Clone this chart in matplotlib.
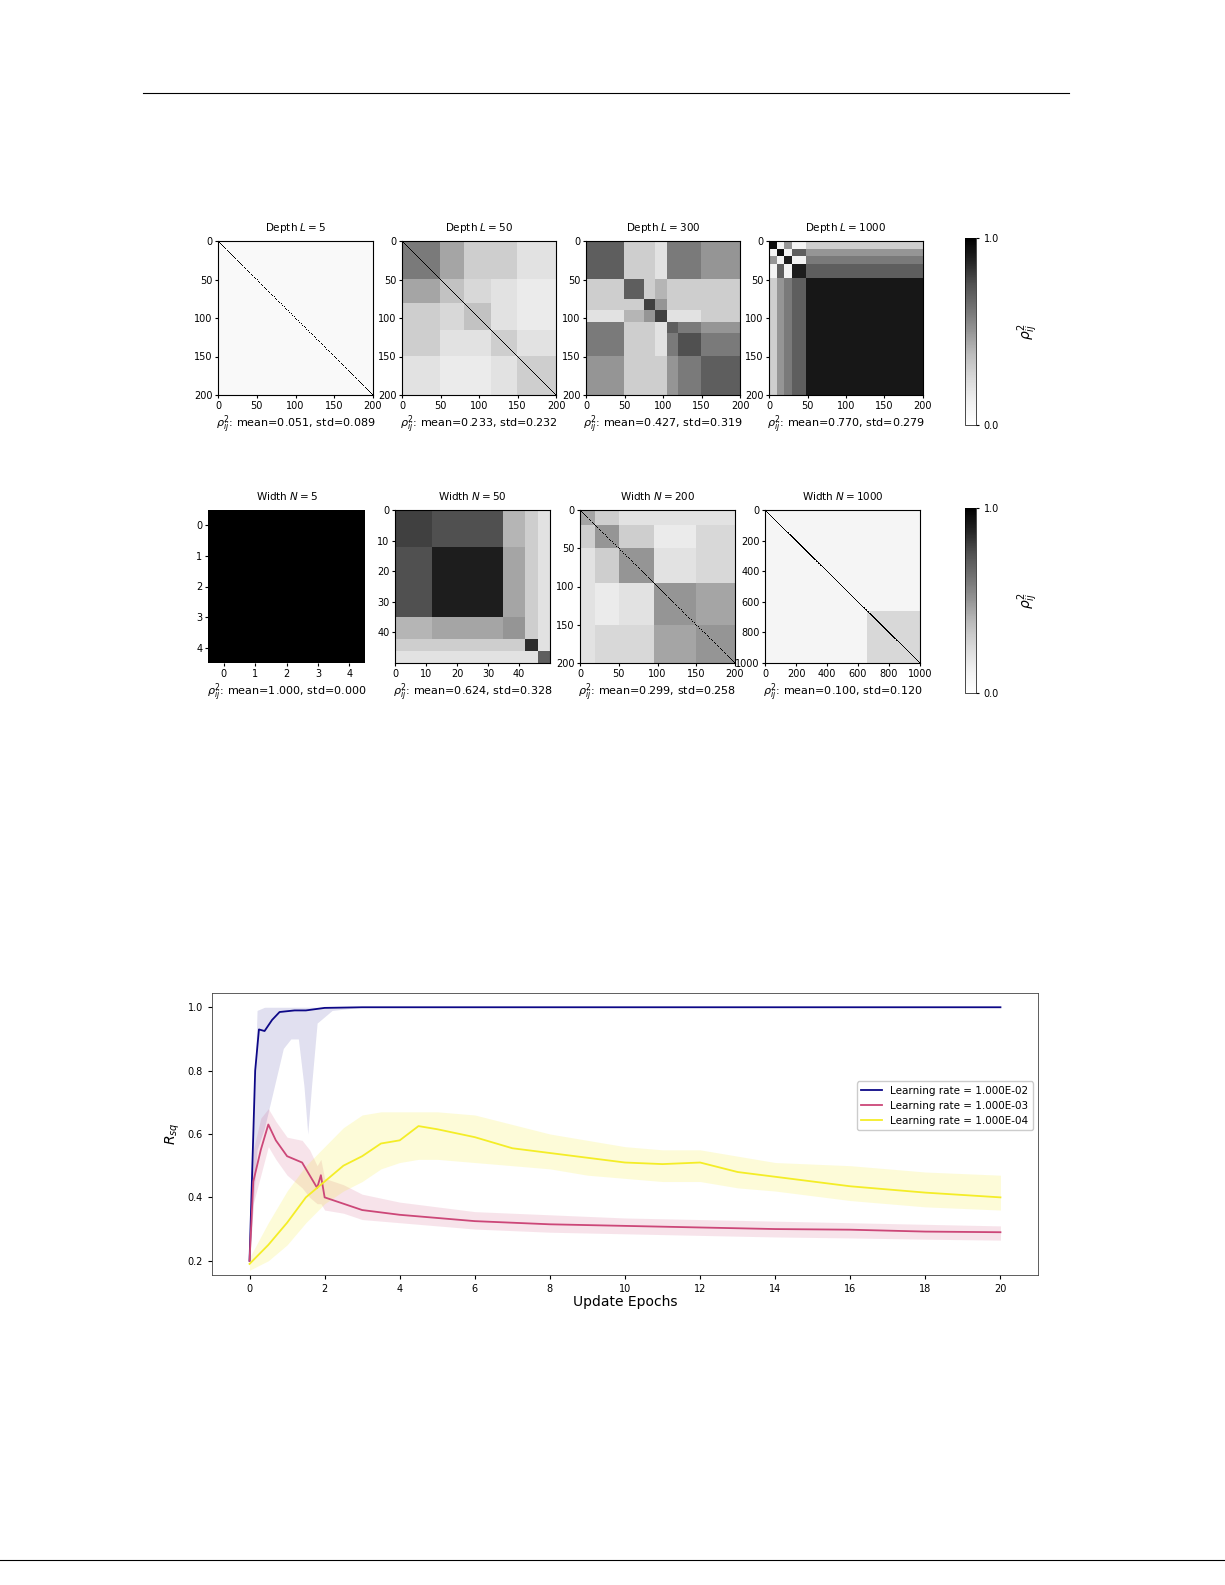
import numpy as np
import matplotlib
matplotlib.use("Agg")
import matplotlib.pyplot as plt
from matplotlib.lines import Line2D
import matplotlib.cm as cm
import matplotlib.colors as mcolors

W, H = 1225, 1585
fig = plt.figure(figsize=(W/100, H/100), dpi=100)

def ax_px(x0, y0, x1, y1):
    return fig.add_axes([x0/W, 1-y1/H, (x1-x0)/W, (y1-y0)/H])

fig.add_artist(Line2D([143/W, 1069/W], [1-93/H, 1-93/H], color='black', lw=0.8))
fig.add_artist(Line2D([0, 1], [1-1560/H, 1-1560/H], color='black', lw=0.8))

# ---------------- heatmap data (block structures) ----------------
depth_titles = [r'Depth $L = 5$', r'Depth $L = 50$', r'Depth $L = 300$', r'Depth $L = 1000$']
depth_stats = [(0.051, 0.089), (0.233, 0.232), (0.427, 0.319), (0.770, 0.279)]
depth_sizes = [200, 200, 200, 200]
depth_edges = [[0, 200],
               [0, 50, 80, 115, 150, 200],
               [0, 50, 75, 90, 105, 120, 150, 200],
               [0, 10, 20, 30, 48, 200]]
depth_levels = [[[0.05]],
                [[0.6, 0.45, 0.3, 0.3, 0.2],
                 [0.45, 0.35, 0.25, 0.2, 0.15],
                 [0.3, 0.25, 0.35, 0.2, 0.15],
                 [0.3, 0.2, 0.2, 0.3, 0.2],
                 [0.2, 0.15, 0.15, 0.2, 0.3]],
                [[0.7, 0.3, 0.3, 0.2, 0.6, 0.6, 0.5],
                 [0.3, 0.7, 0.3, 0.4, 0.3, 0.3, 0.3],
                 [0.3, 0.3, 0.8, 0.5, 0.3, 0.3, 0.3],
                 [0.2, 0.4, 0.5, 0.8, 0.2, 0.2, 0.3],
                 [0.6, 0.3, 0.3, 0.2, 0.7, 0.6, 0.5],
                 [0.6, 0.3, 0.3, 0.2, 0.6, 0.75, 0.6],
                 [0.5, 0.3, 0.3, 0.3, 0.5, 0.6, 0.7]],
                [[0.95, 0.1, 0.5, 0.1, 0.3],
                 [0.1, 0.95, 0.1, 0.7, 0.5],
                 [0.5, 0.1, 0.9, 0.1, 0.6],
                 [0.1, 0.7, 0.1, 0.9, 0.7],
                 [0.3, 0.5, 0.6, 0.7, 0.92]]]
depth_diag = [1, 1, 0, 0]

width_titles = [r'Width $N = 5$', r'Width $N = 50$', r'Width $N = 200$', r'Width $N = 1000$']
width_stats = [(1.000, 0.000), (0.624, 0.328), (0.299, 0.258), (0.100, 0.120)]
width_sizes = [5, 50, 200, 1000]
width_edges = [[0, 5],
               [0, 12, 35, 42, 46, 50],
               [0, 20, 50, 95, 150, 200],
               [0, 660, 1000]]
width_levels = [[[1.0]],
                [[0.8, 0.75, 0.4, 0.3, 0.2],
                 [0.75, 0.9, 0.45, 0.3, 0.2],
                 [0.4, 0.45, 0.5, 0.3, 0.2],
                 [0.3, 0.3, 0.3, 0.85, 0.2],
                 [0.2, 0.2, 0.2, 0.2, 0.7]],
                [[0.45, 0.3, 0.2, 0.2, 0.2],
                 [0.3, 0.5, 0.3, 0.15, 0.25],
                 [0.2, 0.3, 0.5, 0.2, 0.25],
                 [0.2, 0.15, 0.2, 0.5, 0.45],
                 [0.2, 0.25, 0.25, 0.45, 0.5]],
                [[0.08, 0.08], [0.08, 0.25]]]
width_diag = [0, 0, 1, 5]   # diagonal band half-width in cells (0 = none)

def build(n, edges, levels, diag):
    m = np.zeros((n, n))
    for i in range(len(edges)-1):
        for j in range(len(edges)-1):
            m[edges[i]:edges[i+1], edges[j]:edges[j+1]] = levels[i][j]
    if diag:
        idx = np.arange(n)
        band = np.abs(idx[:, None] - idx[None, :]) < diag
        m[band] = 1.0
    return m

row1_x = [(218, 373), (402, 556), (586, 740), (769, 923)]
row2_x = [(208, 365), (395, 550), (580, 735), (765, 920)]

def heat_row(xs, y0, y1, titles, stats, sizes, edges, levels, diags, ticks):
    for k in range(4):
        ax = ax_px(xs[k][0], y0, xs[k][1], y1)
        m = build(sizes[k], edges[k], levels[k], diags[k])
        n = sizes[k]
        if n > 10:
            ax.imshow(m, cmap='Greys', vmin=0, vmax=1, aspect='auto',
                      extent=(0, n, n, 0), interpolation='nearest')
        else:
            ax.imshow(m, cmap='Greys', vmin=0, vmax=1, aspect='auto',
                      interpolation='nearest')
        ax.set_xticks(ticks[k]); ax.set_yticks(ticks[k])
        ax.tick_params(labelsize=7, length=2.5, pad=1.5)
        ax.set_title(titles[k], fontsize=7.5, pad=7)
        ax.set_xlabel(r'$\rho_{ij}^2$: mean=%.3f, std=%.3f' % stats[k], fontsize=8, labelpad=2)
        if n <= 10:
            for s in ax.spines.values():
                s.set_visible(False)

t200 = [0, 50, 100, 150, 200]
heat_row(row1_x, 241, 395, depth_titles, depth_stats, depth_sizes, depth_edges,
         depth_levels, depth_diag, [t200, t200, t200, t200])
heat_row(row2_x, 510, 663, width_titles, width_stats, width_sizes, width_edges,
         width_levels, width_diag,
         [[0, 1, 2, 3, 4], [0, 10, 20, 30, 40], t200, [0, 200, 400, 600, 800, 1000]])

for (y0, y1) in [(238, 425), (508, 693)]:
    cax = ax_px(965, y0, 976, y1)
    cb = fig.colorbar(cm.ScalarMappable(norm=mcolors.Normalize(0, 1), cmap='Greys'), cax=cax)
    cb.set_ticks([0.0, 1.0]); cb.set_ticklabels(['0.0', '1.0'])
    cb.ax.tick_params(labelsize=7, length=2)
    cb.outline.set_linewidth(0.5)
    cb.set_label(r'$\rho_{ij}^2$', fontsize=10, labelpad=12)

# ---------------- line chart data ----------------
blue_x = [0, 0.1, 0.15, 0.25, 0.4, 0.6, 0.8, 1.2, 1.5, 2.0, 3.0, 20]
blue_y = [0.2, 0.6, 0.8, 0.93, 0.925, 0.96, 0.985, 0.99, 0.99, 0.998, 1.0, 1.0]
blue_bx = [0, 0.2, 0.4, 0.6, 0.9, 1.1, 1.3, 1.45, 1.55, 1.65, 1.8, 2.2, 3.0, 20]
blue_lo = [0.2, 0.55, 0.62, 0.72, 0.87, 0.9, 0.9, 0.75, 0.6, 0.75, 0.95, 0.99, 1.0, 1.0]
blue_hi = [0.2, 0.99, 1.0, 1.0, 1.0, 1.0, 1.0, 1.0, 1.0, 1.0, 1.0, 1.0, 1.0, 1.0]

red_x = [0, 0.1, 0.3, 0.5, 0.7, 1.0, 1.4, 1.6, 1.8, 1.9, 2.0, 2.5, 3.0, 4.0, 5.0, 6.0, 8.0, 10, 12, 14, 16, 18, 20]
red_y = [0.2, 0.45, 0.55, 0.63, 0.58, 0.53, 0.51, 0.47, 0.43, 0.47, 0.40, 0.38, 0.36, 0.345, 0.335, 0.325, 0.315, 0.31, 0.305, 0.30, 0.298, 0.292, 0.29]
red_lo = [0.19, 0.38, 0.47, 0.56, 0.52, 0.47, 0.43, 0.40, 0.38, 0.38, 0.36, 0.35, 0.33, 0.32, 0.31, 0.30, 0.29, 0.285, 0.28, 0.275, 0.272, 0.268, 0.265]
red_hi = [0.21, 0.55, 0.65, 0.68, 0.64, 0.59, 0.58, 0.55, 0.50, 0.52, 0.46, 0.44, 0.41, 0.385, 0.37, 0.355, 0.345, 0.335, 0.33, 0.325, 0.32, 0.315, 0.31]

yel_x = [0, 0.5, 1.0, 1.5, 2.0, 2.5, 3.0, 3.5, 4.0, 4.5, 5.0, 6.0, 7.0, 8.0, 9.0, 10, 11, 12, 13, 14, 16, 18, 20]
yel_y = [0.19, 0.25, 0.32, 0.40, 0.45, 0.50, 0.53, 0.57, 0.58, 0.625, 0.615, 0.59, 0.555, 0.54, 0.525, 0.51, 0.505, 0.51, 0.48, 0.465, 0.435, 0.415, 0.40]
yel_lo = [0.17, 0.20, 0.25, 0.32, 0.38, 0.42, 0.45, 0.49, 0.51, 0.52, 0.52, 0.51, 0.50, 0.49, 0.47, 0.46, 0.45, 0.45, 0.43, 0.42, 0.39, 0.37, 0.36]
yel_hi = [0.21, 0.32, 0.42, 0.50, 0.56, 0.62, 0.66, 0.67, 0.67, 0.67, 0.67, 0.66, 0.63, 0.60, 0.58, 0.56, 0.55, 0.55, 0.53, 0.51, 0.50, 0.48, 0.47]

labels = ['Learning rate = 1.000E-02', 'Learning rate = 1.000E-03', 'Learning rate = 1.000E-04']
colors = [plt.cm.plasma(0.0), plt.cm.plasma(0.5), plt.cm.plasma(0.97)]

ax = ax_px(212, 993, 1038, 1275)
ax.fill_between(blue_bx, blue_lo, blue_hi, color=colors[0], alpha=0.12, lw=0)
ax.plot(blue_x, blue_y, color=colors[0], lw=1.3, label=labels[0])
ax.fill_between(red_x, red_lo, red_hi, color=colors[1], alpha=0.15, lw=0)
ax.plot(red_x, red_y, color=colors[1], lw=1.3, label=labels[1])
ax.fill_between(yel_x, yel_lo, yel_hi, color=colors[2], alpha=0.18, lw=0)
ax.plot(yel_x, yel_y, color=colors[2], lw=1.3, label=labels[2])
ax.set_xlim(-1, 21)
ax.set_ylim(0.155, 1.045)
ax.set_xticks(range(0, 21, 2))
ax.set_yticks([0.2, 0.4, 0.6, 0.8, 1.0])
ax.tick_params(labelsize=7, length=3)
ax.set_xlabel('Update Epochs', fontsize=10, labelpad=1)
ax.set_ylabel(r'$R_{sq}$', fontsize=10)
for s in ax.spines.values():
    s.set_linewidth(0.6); s.set_color('#444444')
ax.legend(loc='center right', fontsize=7.5, frameon=True, framealpha=1,
          edgecolor='#cccccc', bbox_to_anchor=(1.0, 0.6))

fig.savefig('out.png', dpi=100)
